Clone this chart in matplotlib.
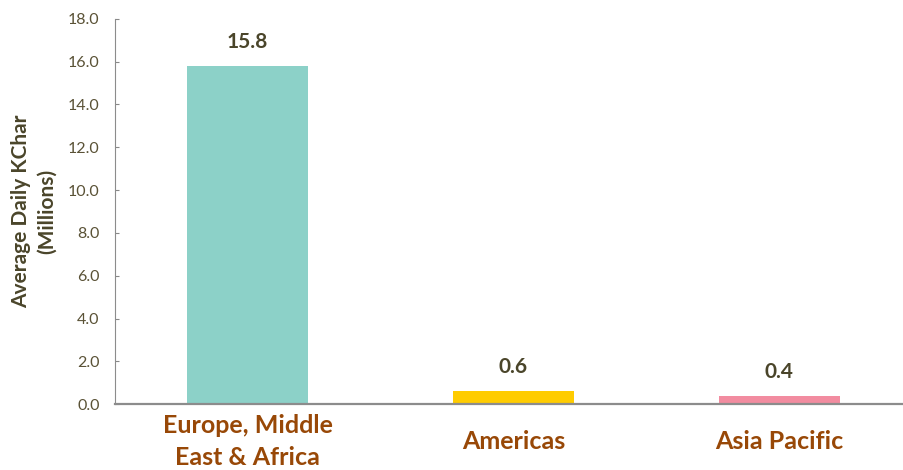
import matplotlib.pyplot as plt

# data
regions = ["Europe, Middle\nEast & Africa", "Americas", "Asia Pacific"]
kchar = [15.8, 0.6, 0.4]
bar_colors = ["#8CD1C8", "#FFCC00", "#F28CA0"]
yticks = [0, 2, 4, 6, 8, 10, 12, 14, 16, 18]

plt.rcParams['font.family'] = ['Lato', 'DejaVu Sans']

fig = plt.figure(figsize=(9.04, 4.70), dpi=100)
ax = fig.add_axes([0.127, 0.14, 0.873, 0.82])

x = range(len(regions))
ax.bar(x, kchar, width=0.455, color=bar_colors)

# value labels above bars
for i, v in enumerate(kchar):
    ax.text(i, v + 0.65, f"{v:.1f}", ha='center', va='bottom',
            fontsize=15, fontweight='bold', color='#4A452A')

ax.set_xlim(-0.5, 2.47)
ax.set_ylim(0, 18)
ax.set_yticks(yticks)
ax.set_yticklabels([f"{t:.1f}" for t in yticks], fontsize=11.5, color='#5A5236')
ax.set_xticks(list(x))
ax.set_xticklabels(regions, fontsize=18, fontweight='bold', color='#984807',
                   linespacing=1.45)
# centre the category labels vertically, like the single line ones
for lbl in ax.get_xticklabels():
    lbl.set_verticalalignment('center')
ax.tick_params(axis='x', length=0, pad=27)
ax.tick_params(axis='y', direction='in', length=3, color='#888888', pad=11)

ax.set_ylabel("Average Daily KChar\n(Millions)", fontsize=15, fontweight='bold',
              color='#4A452A', labelpad=8, linespacing=1.35)

for s in ['top', 'right']:
    ax.spines[s].set_visible(False)
ax.spines['left'].set_color('#8C8C8C')
ax.spines['bottom'].set_color('#8C8C8C')
ax.spines['bottom'].set_linewidth(1.6)

fig.savefig("out.png", dpi=100)
